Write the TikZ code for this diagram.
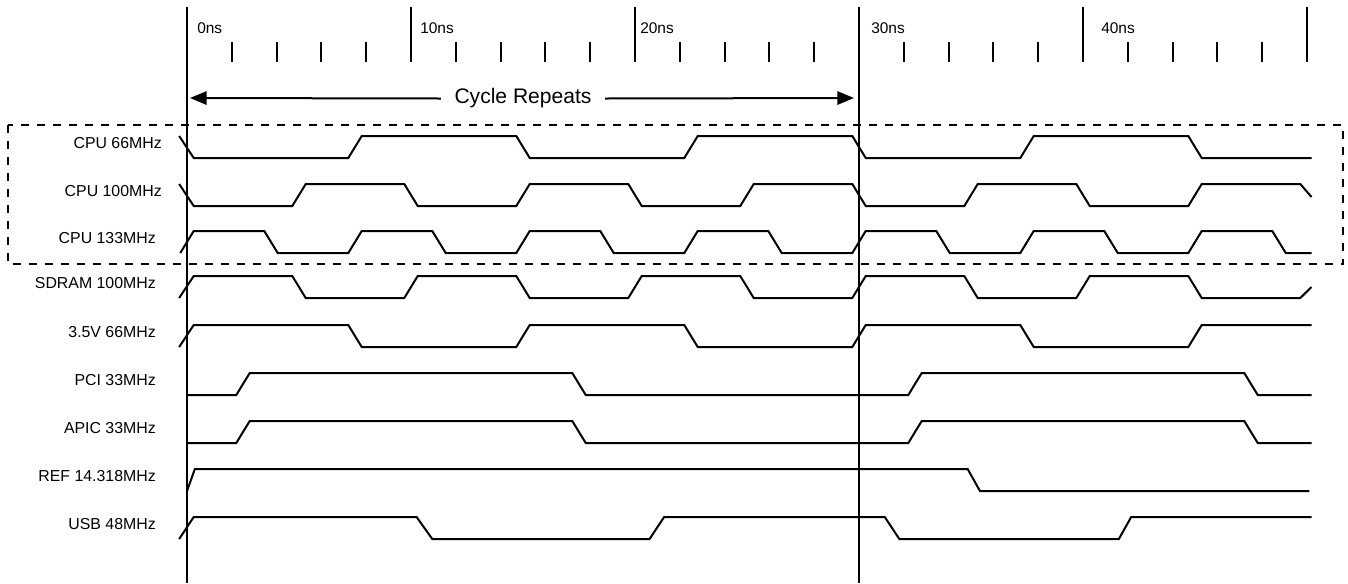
\documentclass[tikz,border=0pt]{standalone}
\usepackage{fontspec}
\setmainfont{Liberation Sans}
\usetikzlibrary{arrows.meta}

\tikzset{
  axis/.style={line width=1.5pt},
  wave/.style={line width=1.5pt},
  groupbox/.style={line width=1.5pt, dash pattern=on 6pt off 6pt},
  cycarrow/.style={line width=1.5pt, -{Triangle[length=12.5pt,width=10pt]}},
  siglabel/.style={font=\fontsize{11.9}{14}\selectfont, inner sep=0pt},
  nslabel/.style={font=\fontsize{11.6}{14}\selectfont, inner sep=0pt, anchor=base west}
}

\begin{document}
\begin{tikzpicture}[x=0.75pt, y=-0.75pt]
\useasboundingbox (0,0) rectangle (1348,583);

% time labels
\node[nslabel] (ns0) at (197,33) {0ns};
\node[nslabel] (ns10) at (420,33) {10ns};
\node[nslabel] (ns20) at (640,33) {20ns};
\node[nslabel] (ns30) at (871,33) {30ns};
\node[nslabel] (ns40) at (1101,33) {40ns};

% cycle arrow
\node[font=\fontsize{15.8}{18}\selectfont, inner xsep=10pt, inner ysep=0pt] (cyc) at (523,98.5) {Cycle Repeats};
\coordinate (cycL) at (190,98);
\coordinate (cycR) at (854,98);
\draw[cycarrow] (cyc.west) -- (cycL);
\draw[cycarrow] (cyc.east) -- (cycR);

% signal names
\foreach \y/\xr/\name [count=\i] in {136/162/CPU 66MHz, 184/162/CPU 100MHz,
    231/156/CPU 133MHz, 276/156/SDRAM 100MHz, 325/156/3.5V 66MHz,
    373/156/PCI 33MHz, 421/156/APIC 33MHz, 469/156/REF 14.318MHz, 517/156/USB 48MHz}
  \node[siglabel, anchor=base east] (sig\i) at (\xr,\y+12.5) {\name};

% CPU group
\draw[groupbox] (8,124.5) rectangle (1343,264);

\begin{scope}[shift={(187,0)}, x=16.8pt]
  % ruler, 1 unit = 1ns
  \draw[axis] (0,7) -- (0,583);
  \draw[axis] (30,7) -- (30,583);
  \foreach \t in {10,20,40,50}
    \draw[axis] (\t,7) -- (\t,62);
  \foreach \t in {0,10,...,40}
    \foreach \m in {2,4,6,8}
      \draw[axis] (\t+\m,42) -- (\t+\m,62);

  % CPU 66MHz
  \draw[wave, shift={(0,136)}] (-0.35,0)
    \foreach \k in {0,15,30} { -- (\k+0.3,22) -- (\k+7.2,22) -- (\k+7.8,0) -- (\k+14.7,0) }
    -- (45.3,22) -- (50.2,22);
  % CPU 100MHz
  \draw[wave, shift={(0,184)}] (-0.35,0)
    \foreach \k in {0,10,...,40} { -- (\k+0.3,22) -- (\k+4.7,22) -- (\k+5.3,0) -- (\k+9.7,0) }
    -- (50.2,13);
  % CPU 133MHz
  \draw[wave, shift={(0,231)}] (-0.3,22)
    \foreach \k in {0,7.5,15,22.5,30,37.5} { -- (\k+0.3,0) -- (\k+3.45,0) -- (\k+4.05,22) -- (\k+7.2,22) }
    -- (45.3,0) -- (48.45,0) -- (49.05,22) -- (50.2,22);
  % SDRAM 100MHz
  \draw[wave, shift={(0,276)}] (-0.35,22)
    \foreach \k in {0,10,...,40} { -- (\k+0.3,0) -- (\k+4.7,0) -- (\k+5.3,22) -- (\k+9.7,22) }
    -- (50.2,11);
  % 3.5V 66MHz
  \draw[wave, shift={(0,325)}] (-0.35,22)
    \foreach \k in {0,15,30} { -- (\k+0.3,0) -- (\k+7.2,0) -- (\k+7.8,22) -- (\k+14.7,22) }
    -- (45.3,0) -- (50.2,0);
  % PCI and APIC 33MHz
  \foreach \y in {373,421}
    \draw[wave, shift={(0,\y)}] (0,22) -- (2.2,22) -- (2.8,0) -- (17.2,0) -- (17.8,22)
      -- (32.2,22) -- (32.8,0) -- (47.2,0) -- (47.8,22) -- (50.2,22);
  % REF 14.318MHz
  \draw[wave, shift={(0,469)}] (0,22) -- (0.35,0) -- (34.85,0) -- (35.4,22) -- (50.1,22);
  % USB 48MHz
  \draw[wave, shift={(0,517)}] (-0.35,22) -- (0.3,0) -- (10.25,0) -- (10.95,22) -- (20.65,22)
    -- (21.3,0) -- (31.15,0) -- (31.8,22) -- (41.6,22) -- (42.15,0) -- (50.2,0);
\end{scope}
\end{tikzpicture}
\end{document}
